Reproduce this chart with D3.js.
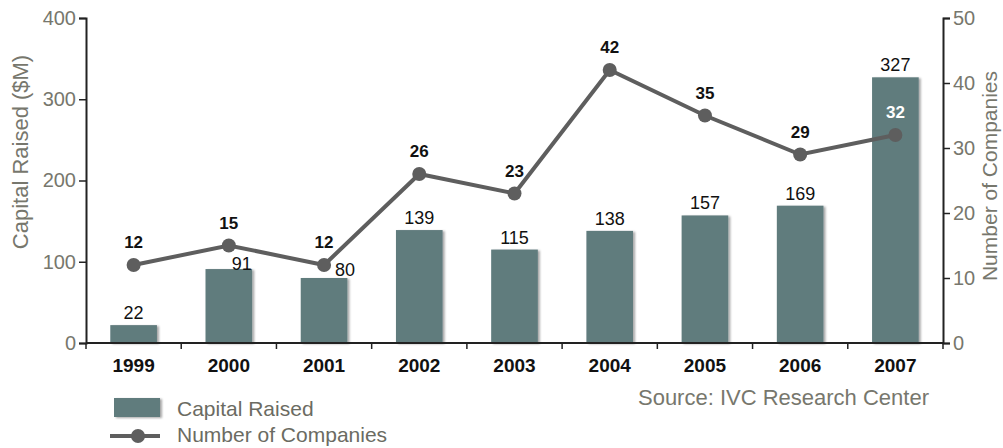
<!DOCTYPE html>
<html>
<head>
<meta charset="utf-8">
<title>Capital Raised and Number of Companies</title>
<script src="https://d3js.org/d3.v7.min.js"></script>
<style>
  body { margin: 0; background: #fff; }
  svg { display: block; font-family: "Liberation Sans", Arial, sans-serif; }
</style>
</head>
<body>
<div id="chart"></div>
<script>
// data
var years = ["1999", "2000", "2001", "2002", "2003", "2004", "2005", "2006", "2007"];
var capital = [22, 91, 80, 139, 115, 138, 157, 169, 327];
var companies = [12, 15, 12, 26, 23, 42, 35, 29, 32];
var leftTicks = [0, 100, 200, 300, 400];
var rightTicks = [0, 10, 20, 30, 40, 50];

var W = 1003, H = 448;
var margin = {top: 18, right: 60, bottom: 105, left: 86};
var width = W - margin.left - margin.right,
    height = H - margin.top - margin.bottom;

var barColor = "#607b7d", lineColor = "#5e5e5e", axisText = "#77776d";

var svg = d3.select("#chart").append("svg")
    .attr("width", W).attr("height", H);

var defs = svg.append("defs");
var f = defs.append("filter").attr("id", "shadow")
    .attr("x", "-10%").attr("y", "-10%").attr("width", "130%").attr("height", "130%");
f.append("feDropShadow").attr("dx", 2).attr("dy", 1).attr("stdDeviation", 1.2)
    .attr("flood-color", "#000").attr("flood-opacity", 0.35);

var g = svg.append("g").attr("transform", "translate(" + margin.left + "," + margin.top + ")");

var x = d3.scaleBand().domain(years).range([0, width]).paddingInner(0).paddingOuter(0);
var yL = d3.scaleLinear().domain([0, 400]).range([height, 0]);
var yR = d3.scaleLinear().domain([0, 50]).range([height, 0]);

var barW = x.bandwidth() * 0.49;

// bars
g.selectAll(".bar").data(years).enter().append("rect")
    .attr("class", "bar")
    .attr("x", function(d) { return x(d) + (x.bandwidth() - barW) / 2; })
    .attr("y", function(d, i) { return yL(capital[i]); })
    .attr("width", barW)
    .attr("height", function(d, i) { return height - yL(capital[i]); })
    .attr("fill", barColor)
    .attr("filter", "url(#shadow)");

// nudges for labels that collide with the line in the original
var barNudge = {"2000": [13, 7], "2001": [21, 4]};

g.selectAll(".barlab").data(years).enter().append("text")
    .attr("x", function(d) { return x(d) + x.bandwidth() / 2 + (barNudge[d] ? barNudge[d][0] : 0); })
    .attr("y", function(d, i) { return yL(capital[i]) - 6 + (barNudge[d] ? barNudge[d][1] : 0); })
    .attr("text-anchor", "middle")
    .style("font-size", "18px")
    .attr("fill", "#111")
    .text(function(d, i) { return capital[i]; });

// axes
var bottom = g.append("g").attr("transform", "translate(0," + height + ")");
bottom.append("line").attr("x1", 0).attr("x2", width).attr("stroke", "#222").attr("stroke-width", 2);
bottom.selectAll(".bt").data(d3.range(years.length + 1)).enter().append("line")
    .attr("x1", function(i) { return i * x.step(); })
    .attr("x2", function(i) { return i * x.step(); })
    .attr("y1", 0).attr("y2", 6)
    .attr("stroke", "#222").attr("stroke-width", 1.5);
bottom.selectAll(".yr").data(years).enter().append("text")
    .attr("x", function(d) { return x(d) + x.bandwidth() / 2; })
    .attr("y", 29)
    .attr("text-anchor", "middle")
    .style("font-size", "19px").style("font-weight", "bold")
    .attr("fill", "#111")
    .text(function(d) { return d; });

var left = g.append("g")
    .call(d3.axisLeft(yL).tickValues(leftTicks).tickSize(7).tickPadding(3));
var right = g.append("g").attr("transform", "translate(" + width + ",0)")
    .call(d3.axisRight(yR).tickValues(rightTicks).tickSize(7).tickPadding(3));
[left, right].forEach(function(a) {
  a.select(".domain").attr("stroke", "#222").attr("stroke-width", 2);
  a.selectAll(".tick line").attr("stroke", "#222").attr("stroke-width", 1.5);
  a.selectAll(".tick text").attr("fill", axisText)
      .style("font-size", "20px").style("font-family", "Liberation Sans, Arial, sans-serif");
});

// axis titles
svg.append("text")
    .attr("transform", "translate(28,152) rotate(-90)")
    .attr("text-anchor", "middle")
    .style("font-size", "22px").attr("fill", axisText)
    .text("Capital Raised ($M)");
svg.append("text")
    .attr("transform", "translate(997,176) rotate(-90)")
    .attr("text-anchor", "middle")
    .style("font-size", "21px").attr("fill", axisText)
    .text("Number of Companies");

// line
var line = d3.line()
    .x(function(d, i) { return x(years[i]) + x.bandwidth() / 2; })
    .y(function(d) { return yR(d); });
g.append("path").datum(companies)
    .attr("d", line)
    .attr("fill", "none")
    .attr("stroke", lineColor)
    .attr("stroke-width", 4);
g.selectAll(".pt").data(companies).enter().append("circle")
    .attr("cx", function(d, i) { return x(years[i]) + x.bandwidth() / 2; })
    .attr("cy", function(d) { return yR(d); })
    .attr("r", 7)
    .attr("fill", lineColor);
g.selectAll(".ptlab").data(companies).enter().append("text")
    .attr("x", function(d, i) { return x(years[i]) + x.bandwidth() / 2; })
    .attr("y", function(d) { return yR(d) - 17; })
    .attr("text-anchor", "middle")
    .style("font-size", "17px").style("font-weight", "bold")
    .attr("fill", function(d, i) { return years[i] === "2007" ? "#fff" : "#111"; })
    .text(function(d) { return d; });

// source
svg.append("text")
    .attr("x", 929).attr("y", 405)
    .attr("text-anchor", "end")
    .style("font-size", "22px").attr("fill", axisText)
    .text("Source: IVC Research Center");

// legend
var leg = svg.append("g");
leg.append("rect").attr("x", 114).attr("y", 398).attr("width", 46).attr("height", 19)
    .attr("fill", barColor).attr("filter", "url(#shadow)");
leg.append("text").attr("x", 177).attr("y", 416)
    .style("font-size", "21px").attr("fill", "#6b6b62").text("Capital Raised");
leg.append("line").attr("x1", 110).attr("x2", 160).attr("y1", 436).attr("y2", 436)
    .attr("stroke", lineColor).attr("stroke-width", 4);
leg.append("circle").attr("cx", 138).attr("cy", 436).attr("r", 7).attr("fill", lineColor);
leg.append("text").attr("x", 177).attr("y", 442)
    .style("font-size", "21px").attr("fill", "#6b6b62").text("Number of Companies");
</script>
</body>
</html>
